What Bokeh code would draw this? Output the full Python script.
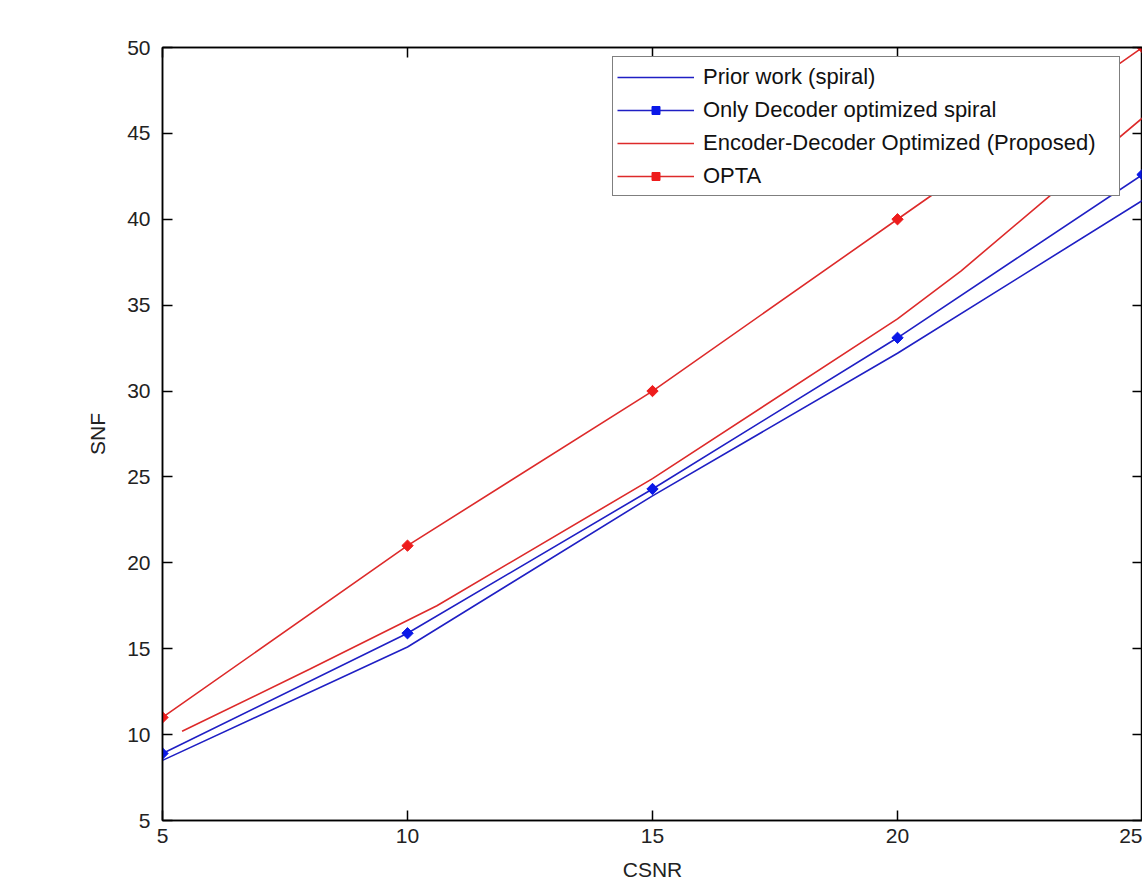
import math
from bokeh.plotting import figure
from bokeh.models import (LinearAxis, FixedTicker, Legend, LegendItem, Range1d)
from bokeh.embed import file_html
from bokeh.resources import INLINE

# ---- data ----
csnr_prior = [5, 10, 15, 20, 25]
snf_prior = [8.5, 15.1, 23.9, 32.2, 41.1]

csnr_dec = [5, 10, 15, 20, 25]
snf_dec = [8.9, 15.9, 24.3, 33.1, 42.6]

csnr_encdec = [5.4, 8.0, 10.6, 15.0, 20.0, 21.3, 23.0, 25.0]
snf_encdec = [10.2, 13.8, 17.5, 24.9, 34.2, 37.0, 41.1, 45.9]

csnr_opta = [5, 10, 15, 20, 25]
snf_opta = [11.0, 21.0, 30.0, 40.0, 50.0]

x_ticks = [5, 10, 15, 20, 25]
y_ticks = [5, 10, 15, 20, 25, 30, 35, 40, 45, 50]

labels = ["Prior work (spiral)", "Only Decoder optimized spiral",
          "Encoder-Decoder Optimized (Proposed)", "OPTA"]

FONT = "Liberation Sans"
BLUE = "#1f1fc4"
RED = "#dd2a2a"
FS = "21px"

p = figure(width=1142, height=883, output_backend="svg", toolbar_location=None,
           x_range=Range1d(5, 25), y_range=Range1d(5, 50),
           min_border_left=162, min_border_right=0, min_border_top=47,
           min_border_bottom=60)
p.background_fill_color = "white"
p.border_fill_color = "white"
p.outline_line_color = "black"
p.outline_line_width = 1.5
p.grid.visible = False

ax = p.xaxis[0]
ay = p.yaxis[0]
for a, tk in ((ax, x_ticks), (ay, y_ticks)):
    a.ticker = FixedTicker(ticks=tk)
    a.major_tick_in = 10
    a.major_tick_out = 0
    a.minor_tick_in = 0
    a.minor_tick_out = 0
    a.axis_line_color = "black"
    a.axis_line_width = 1.5
    a.major_tick_line_width = 1.5
    a.major_label_text_font = FONT
    a.major_label_text_font_size = FS
    a.major_label_text_color = "#222222"
    a.axis_label_text_font = FONT
    a.axis_label_text_font_size = FS
    a.axis_label_text_font_style = "normal"
    a.axis_label_text_color = "#222222"
ax.axis_label = "CSNR"
ay.axis_label = "SNF"
ax.major_label_standoff = 8
ax.axis_label_standoff = 12
ay.major_label_standoff = 12
ay.axis_label_standoff = 15

# ticks on top and right (no labels)
for side, tk in (("above", x_ticks), ("right", y_ticks)):
    a2 = LinearAxis(ticker=FixedTicker(ticks=tk))
    a2.major_tick_in = 10
    a2.major_tick_out = 0
    a2.minor_tick_in = 0
    a2.minor_tick_out = 0
    a2.major_label_overrides = {t: "" for t in tk}
    a2.major_label_standoff = 0
    a2.axis_line_color = "black"
    a2.axis_line_width = 1.5
    a2.major_tick_line_width = 1.5
    p.add_layout(a2, side)

r_prior = p.line(csnr_prior, snf_prior, line_color=BLUE, line_width=1.6)
r_dec = p.line(csnr_dec, snf_dec, line_color=BLUE, line_width=1.6)
m_dec = p.scatter(csnr_dec, snf_dec, marker="square", size=8, angle=math.pi / 4,
                  fill_color="#0a18e8", line_color="#0a18e8")
r_encdec = p.line(csnr_encdec, snf_encdec, line_color=RED, line_width=1.6)
r_opta = p.line(csnr_opta, snf_opta, line_color=RED, line_width=1.6)
m_opta = p.scatter(csnr_opta, snf_opta, marker="square", size=8, angle=math.pi / 4,
                   fill_color="#ee1c1c", line_color="#ee1c1c")

legend = Legend(items=[
    LegendItem(label=labels[0], renderers=[r_prior]),
    LegendItem(label=labels[1], renderers=[r_dec, m_dec]),
    LegendItem(label=labels[2], renderers=[r_encdec]),
    LegendItem(label=labels[3], renderers=[r_opta, m_opta]),
], location=(450, 624))
legend.label_text_font = FONT
legend.label_text_font_size = "22px"
legend.label_text_color = "#111111"
legend.glyph_width = 77
legend.glyph_height = 20
legend.label_standoff = 9
legend.label_height = 31
legend.spacing = 2
legend.padding = 4
legend.margin = 0
legend.label_width = 412
legend.border_line_color = "black"
legend.border_line_width = 1.5
legend.background_fill_color = "white"
legend.background_fill_alpha = 1.0
p.add_layout(legend, "center")

open("out.html", "w").write(file_html(p, INLINE))
